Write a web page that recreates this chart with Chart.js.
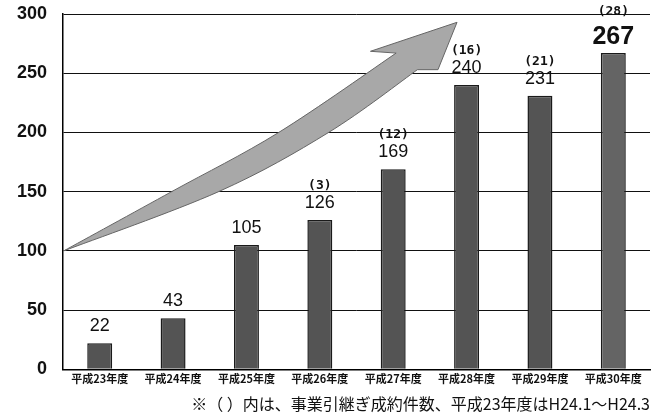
<!DOCTYPE html>
<html>
<head>
<meta charset="utf-8">
<script src="https://cdn.jsdelivr.net/npm/chart.js@4/dist/chart.umd.min.js"></script>
<style>
html,body{margin:0;padding:0;background:#fff;}
#wrap{position:relative;width:657px;height:417px;}
</style>
</head>
<body>
<div id="wrap"><canvas id="c" width="657" height="417"></canvas></div>
<script>
const categories = ['平成23年度','平成24年度','平成25年度','平成26年度','平成27年度','平成28年度','平成29年度','平成30年度'];
const values = [22, 43, 105, 126, 169, 240, 231, 267];
const contracts = [null, null, null, 3, 12, 16, 21, 28];
const yTicks = [0, 50, 100, 150, 200, 250, 300];
const footnote = '※（ ）内は、事業引継ぎ成約件数、平成23年度はH24.1～H24.3';

// arrow outline in data units (category index, value)
const arrowTop = [[-0.49,100],[0.98,150],[2.44,200],[4.04,267]];
const arrowBottom = [[4.33,253],[3.12,200],[1.62,150],[-0.49,100]];
const arrowHead = [[3.69,268.5],[4.87,293],[4.61,253]];

function smoothPath(ctx, pts){
  for(let i=0;i<pts.length-1;i++){
    const p0 = pts[i-1]||pts[i], p1=pts[i], p2=pts[i+1], p3=pts[i+2]||pts[i+1];
    const c1x = p1[0]+(p2[0]-p0[0])/6, c1y = p1[1]+(p2[1]-p0[1])/6;
    const c2x = p2[0]-(p3[0]-p1[0])/6, c2y = p2[1]-(p3[1]-p1[1])/6;
    ctx.bezierCurveTo(c1x,c1y,c2x,c2y,p2[0],p2[1]);
  }
}

const arrowPlugin = {
  id:'arrow',
  beforeDatasetsDraw(chart){
    const {ctx, scales:{x,y}} = chart;
    const px = p => [x.getPixelForValue(p[0]), y.getPixelForValue(p[1])];
    const top = arrowTop.map(px), bot = arrowBottom.map(px), head = arrowHead.map(px);
    ctx.save();
    ctx.beginPath();
    ctx.moveTo(top[0][0], top[0][1]);
    smoothPath(ctx, top);
    head.forEach(p=>ctx.lineTo(p[0],p[1]));
    ctx.lineTo(bot[0][0], bot[0][1]);
    smoothPath(ctx, bot);
    ctx.closePath();
    ctx.fillStyle = '#a8a8a8';
    ctx.fill();
    ctx.strokeStyle = '#666';
    ctx.lineWidth = 1;
    ctx.stroke();
    ctx.restore();
  }
};

const labelPlugin = {
  id:'labels',
  afterDatasetsDraw(chart){
    const {ctx} = chart;
    const meta = chart.getDatasetMeta(0);
    ctx.save();
    ctx.textAlign = 'center';
    ctx.textBaseline = 'alphabetic';
    ctx.fillStyle = '#111';
    meta.data.forEach((bar,i)=>{
      const last = i === values.length-1;
      ctx.font = last ? 'bold 25px "Liberation Sans", Arial, sans-serif' : '18px "Liberation Sans", Arial, sans-serif';
      ctx.fillText(String(values[i]), bar.x, bar.y - (last ? 9 : 12));
      if(contracts[i] !== null){
        ctx.font = 'bold 13px "DejaVu Sans Mono", monospace';
        ctx.fillText('(' + contracts[i] + ')', bar.x, bar.y - (last ? 38 : 31));
      }
    });
    ctx.restore();
  }
};

new Chart(document.getElementById('c'), {
  type:'bar',
  data:{
    labels: categories,
    datasets:[{
      data: values,
      backgroundColor: ['#545454','#545454','#545454','#545454','#545454','#545454','#545454','#646464'],
      borderColor:'#1a1a1a',
      borderWidth:1.5,
      categoryPercentage:1,
      barPercentage:0.34
    }]
  },
  options:{
    responsive:false,
    animation:false,
    devicePixelRatio:1,
    layout:{padding:{top:14,right:7,left:1,bottom:4}},
    plugins:{
      legend:{display:false},
      tooltip:{enabled:false},
      title:{
        display:true,
        position:'bottom',
        align:'end',
        text: footnote,
        color:'#111',
        font:{family:'"Noto Sans CJK JP", sans-serif', size:16, weight:'normal', lineHeight:1.1},
        padding:{top:8,bottom:0}
      }
    },
    scales:{
      x:{
        grid:{display:false, drawTicks:false},
        border:{color:'#000', width:1.5},
        ticks:{
          color:'#111',
          padding:3,
          font:{family:'"Noto Sans CJK JP", sans-serif', size:11, weight:'bold', lineHeight:1.1},
          maxRotation:0, autoSkip:false
        }
      },
      y:{
        min:0, max:300,
        afterBuildTicks(axis){ axis.ticks = yTicks.map(v=>({value:v})); },
        afterFit(axis){ axis.paddingTop = 0; axis.paddingBottom = 0; },
        grid:{color:'#111', lineWidth:1, drawTicks:false},
        border:{color:'#000', width:1.5},
        ticks:{
          color:'#111',
          padding:16,
          font:{family:'"Liberation Sans", Arial, sans-serif', size:18, weight:'bold'}
        }
      }
    }
  },
  plugins:[arrowPlugin, labelPlugin]
});
</script>
</body>
</html>
